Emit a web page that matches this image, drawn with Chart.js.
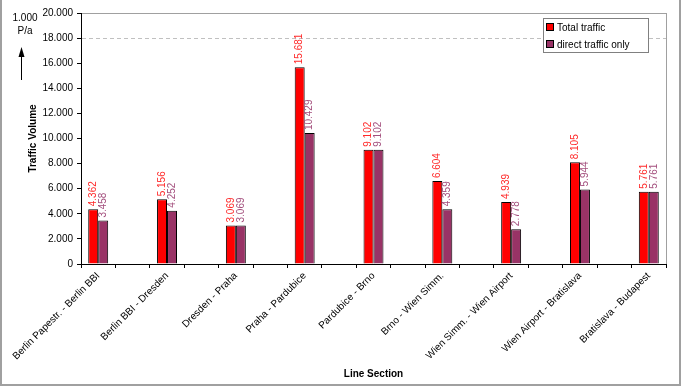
<!DOCTYPE html>
<html>
<head>
<meta charset="utf-8">
<script src="https://cdn.jsdelivr.net/npm/chart.js@4"></script>
<style>
  body { margin: 0; background: #fff; }
  #wrap { width: 688px; height: 387px; }
</style>
</head>
<body>
<div id="wrap"><canvas id="chart" width="688" height="387"></canvas></div>
<script>
var sections = [
  "Berlin Papestr. - Berlin BBI",
  "Berlin BBI - Dresden",
  "Dresden - Praha",
  "Praha - Pardubice",
  "Pardubice - Brno",
  "Brno - Wien Simm.",
  "Wien Simm. - Wien Airport",
  "Wien Airport - Bratislava",
  "Bratislava - Budapest"
];
var totalTraffic = [4362, 5156, 3069, 15681, 9102, 6604, 4939, 8105, 5761];
var directTraffic = [3458, 4252, 3069, 10429, 9102, 4359, 2778, 5944, 5761];
var yMax = 20000;
var yStep = 2000;
var markedLevel = 18000;

// the original sheet leaves an empty column between two line sections
function spaced(arr, blank) {
  var out = [];
  arr.forEach(function (v, i) {
    out.push(v);
    if (i < arr.length - 1) out.push(blank);
  });
  return out;
}

function fmt(v) {
  return String(v).replace(/\B(?=(\d{3})+(?!\d))/g, '.');
}

var FONT = "'Liberation Sans', Arial, sans-serif";
Chart.defaults.font.family = FONT;
Chart.defaults.font.size = 10;
Chart.defaults.color = '#000';

var framePlugin = {
  id: 'frame',
  beforeDraw: function (chart) {
    var ctx = chart.ctx, a = chart.chartArea;
    ctx.save();
    ctx.fillStyle = '#fff';
    ctx.fillRect(0, 0, chart.width, chart.height);
    ctx.strokeStyle = '#a0a0a0';
    ctx.lineWidth = 1;
    ctx.strokeRect(a.left + 0.5, a.top + 0.5, a.right - a.left, a.bottom - a.top);
    ctx.restore();
  },
  afterDraw: function (chart) {
    var ctx = chart.ctx;
    ctx.save();
    // outer border of the sheet object
    ctx.strokeStyle = '#a0a0a0';
    ctx.lineWidth = 2;
    ctx.beginPath();
    ctx.moveTo(1, 0);
    ctx.lineTo(1, 385);
    ctx.lineTo(680, 385);
    ctx.lineTo(680, 0);
    ctx.stroke();

    // unit note and arrow
    ctx.fillStyle = '#000';
    ctx.font = '10px ' + FONT;
    ctx.textAlign = 'center';
    ctx.textBaseline = 'middle';
    ctx.fillText('1.000', 25, 18);
    ctx.fillText('P/a', 25, 31);
    ctx.strokeStyle = '#000';
    ctx.lineWidth = 1;
    ctx.beginPath();
    ctx.moveTo(21.5, 80);
    ctx.lineTo(21.5, 54);
    ctx.stroke();
    ctx.beginPath();
    ctx.moveTo(21.5, 47);
    ctx.lineTo(18.5, 57);
    ctx.lineTo(24.5, 57);
    ctx.closePath();
    ctx.fill();

    // legend box
    var lx = 543, ly = 18, lw = 105, lh = 34;
    ctx.fillStyle = '#fff';
    ctx.fillRect(lx, ly, lw, lh);
    ctx.strokeStyle = '#808080';
    ctx.strokeRect(lx + 0.5, ly + 0.5, lw, lh);
    chart.data.datasets.forEach(function (ds, i) {
      var y = ly + 9 + i * 17;
      ctx.fillStyle = ds.backgroundColor;
      ctx.fillRect(lx + 3, y - 4, 8, 8);
      ctx.strokeStyle = '#000';
      ctx.strokeRect(lx + 3.5, y - 3.5, 7, 7);
      ctx.fillStyle = '#000';
      ctx.textAlign = 'left';
      ctx.fillText(ds.label, lx + 14, y + 1);
    });
    ctx.restore();
  }
};

var valueLabels = {
  id: 'valueLabels',
  afterDatasetsDraw: function (chart) {
    var ctx = chart.ctx;
    chart.data.datasets.forEach(function (ds, di) {
      var meta = chart.getDatasetMeta(di);
      meta.data.forEach(function (bar, i) {
        var v = ds.data[i];
        if (v == null) return;
        ctx.save();
        ctx.translate(bar.x, bar.y - 3);
        ctx.rotate(-Math.PI / 2);
        ctx.font = '10px ' + FONT;
        ctx.fillStyle = ds.labelColor;
        ctx.textAlign = 'left';
        ctx.textBaseline = 'middle';
        ctx.fillText(fmt(v), 0, 0);
        ctx.restore();
      });
    });
  }
};

new Chart(document.getElementById('chart').getContext('2d'), {
  type: 'bar',
  data: {
    labels: spaced(sections, ''),
    datasets: [
      {
        label: 'Total traffic',
        data: spaced(totalTraffic, null),
        backgroundColor: '#ff0000',
        borderColor: '#000',
        borderWidth: 1,
        labelColor: '#ff2a2a',
      },
      {
        label: 'direct traffic only',
        data: spaced(directTraffic, null),
        backgroundColor: '#993366',
        borderColor: '#000',
        borderWidth: 1,
        labelColor: '#a4507e',
      },
    ],
  },
  options: {
    responsive: false,
    devicePixelRatio: 1,
    animation: false,
    layout: { padding: { top: 13, right: 22, left: 0, bottom: 0 } },
    categoryPercentage: 0.58,
    barPercentage: 1,
    plugins: {
      legend: { display: false },
      tooltip: { enabled: false },
    },
    scales: {
      x: {
        afterFit: function (scale) { scale.height = 123; },
        grid: {
          drawOnChartArea: false,
          tickLength: 4,
          tickColor: '#000',
        },
        border: { color: '#000', width: 1 },
        ticks: {
          autoSkip: false,
          minRotation: 45,
          maxRotation: 45,
          padding: 2,
          color: '#000',
        },
        title: {
          display: true,
          text: 'Line Section',
          font: { weight: 'bold', size: 10 },
          padding: { top: 0, bottom: 7 },
        },
      },
      y: {
        min: 0,
        max: yMax,
        afterFit: function (scale) { scale.width = 81; },
        grid: {
          color: function (c) { return c.tick && c.tick.value === markedLevel ? '#c0c0c0' : 'transparent'; },
          tickColor: '#000',
          tickLength: 4,
        },
        border: { color: '#000', width: 1, dash: [4, 3] },
        ticks: {
          stepSize: yStep,
          padding: 4,
          color: '#000',
          callback: function (v) { return fmt(v); },
        },
        title: {
          display: true,
          text: 'Traffic Volume',
          font: { weight: 'bold', size: 10 },
          padding: { top: 27, bottom: 0 },
        },
      },
    },
  },
  plugins: [framePlugin, valueLabels],
});
</script>
</body>
</html>
